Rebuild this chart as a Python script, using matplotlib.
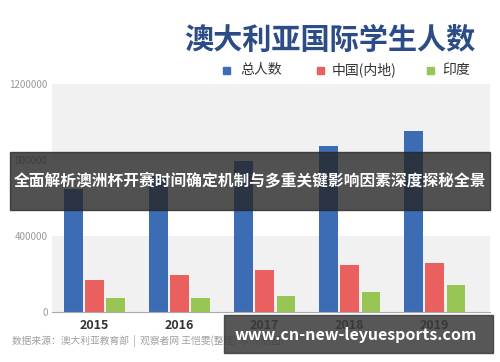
import matplotlib
matplotlib.use("Agg")
import matplotlib.pyplot as plt
from matplotlib.patches import Rectangle
import numpy as np

plt.rcParams['font.family'] = ['Noto Sans CJK SC', 'DejaVu Sans']

# data
years = ['2015', '2016', '2017', '2018', '2019']
total = [645000, 715000, 797000, 873000, 952000]
china = [167000, 193000, 223000, 249000, 256000]
india = [72000, 73000, 85000, 105000, 144000]
series_names = ['总人数', '中国(内地)', '印度']
yticks = [0, 400000, 800000, 1200000]

colors = ['#3b6cb4', '#e9605f', '#97c654']

title = '澳大利亚国际学生人数'
banner = '全面解析澳洲杯开赛时间确定机制与多重关键影响因素深度探秘全景'
source = '数据来源：澳大利亚教育部  |  观察者网 王恺雯(整理) 冰川(制图)'
watermark = 'www.cn-new-leyuesports.com'

W, H = 500, 362
fig = plt.figure(figsize=(W / 100, H / 100), dpi=100)
fig.patch.set_facecolor('white')


def fx(px):
    return px / W


def fy(py):
    return 1 - py / H


ax = fig.add_axes([fx(52), fy(312), fx(490) - fx(52), fy(84) - fy(312)])
ax.set_ylim(0, 1200000)
ax.set_xlim(-0.5, 4.65)

# alternating background bands
for lo, hi, c in [(0, 400000, '#f1f1f1'), (400000, 800000, 'white'),
                  (800000, 1200000, '#f1f1f1')]:
    ax.axhspan(lo, hi, color=c, zorder=0, lw=0)

x = np.arange(len(years))
bw = 0.22
off = 0.25
for i, vals in enumerate([total, china, india]):
    ax.bar(x + (i - 1) * off, vals, width=bw, color=colors[i], zorder=2,
           label=series_names[i])

for s in ['top', 'right', 'left']:
    ax.spines[s].set_visible(False)
ax.spines['bottom'].set_color('#aaaaaa')
ax.spines['bottom'].set_linewidth(0.8)
ax.set_yticks(yticks)
ax.set_yticklabels([str(v) for v in yticks], fontsize=7, color='#9a9a9a')
ax.tick_params(axis='y', length=0, pad=3)
ax.set_xticks(x)
ax.set_xticklabels(years, fontsize=9, fontweight='bold', color='#333333')
ax.tick_params(axis='x', length=0, pad=5)

# title and legend
fig.text(fx(330), fy(40), title, fontsize=21, fontweight='heavy',
         color='#2b4c86', ha='center', va='center')
leg_x = [(223, 240), (317, 332), (427, 442)]
for (sx, tx), name, c in zip(leg_x, series_names, colors):
    fig.patches.append(Rectangle((fx(sx), fy(74)), fx(7), fy(0) - fy(7),
                                 transform=fig.transFigure, color=c))
    fig.text(fx(tx), fy(70), name, fontsize=10, color='#333333',
             ha='left', va='center')

# source line
fig.text(fx(12), fy(341), source, fontsize=7, color='#a0a0a0',
         ha='left', va='center')

# overlay banner
fig.patches.append(Rectangle((fx(10), fy(210)), fx(480), fy(152) - fy(210),
                             transform=fig.transFigure, color='#262626',
                             alpha=0.8, zorder=5))
fig.text(fx(250), fy(181), banner, fontsize=11.3, fontweight='bold',
         color='white', ha='center', va='center', zorder=6)

# watermark box
fig.patches.append(Rectangle((fx(224), fy(353)), fx(269), fy(315) - fy(353),
                             transform=fig.transFigure, color='#3a3a3a',
                             alpha=0.85, zorder=5))
fig.text(fx(356), fy(335), watermark, fontsize=11.5, fontweight='bold',
         color='white', ha='center', va='center', zorder=6)

fig.savefig('out.png', dpi=100, facecolor='white')
